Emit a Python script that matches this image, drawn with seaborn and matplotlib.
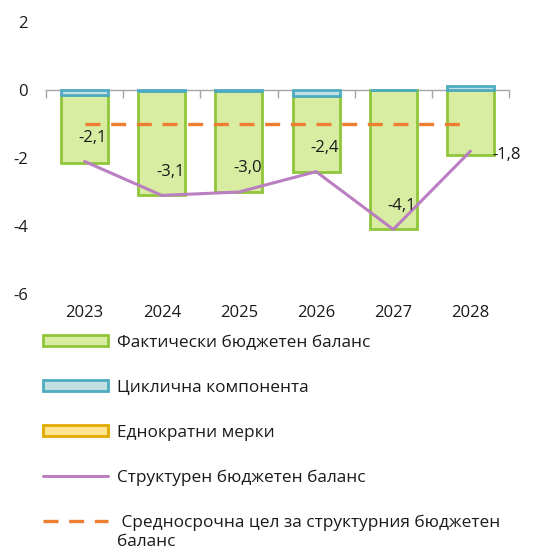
import matplotlib
matplotlib.use("Agg")
import matplotlib.pyplot as plt
import seaborn as sns
import numpy as np
import pandas as pd
from matplotlib.patches import Patch
from matplotlib.lines import Line2D
from matplotlib.ticker import FixedLocator
from matplotlib.legend_handler import HandlerLine2D

years = ["2023", "2024", "2025", "2026", "2027", "2028"]
actual_balance = [-2.15, -3.1, -3.0, -2.4, -4.1, -1.9]
cyclical = [-0.15, -0.04, -0.04, -0.17, 0.0, 0.12]
one_off = [0.0, 0.0, 0.0, 0.0, 0.0, 0.0]
structural = [-2.1, -3.1, -3.0, -2.4, -4.1, -1.8]
structural_labels = ["-2,1", "-3,1", "-3,0", "-2,4", "-4,1", "-1,8"]
mto = [-1.0, -1.0, -1.0, -1.0, -1.0, -1.0]
y_ticks = [2, 0, -2, -4, -6]

legend_labels = ["Фактически бюджетен баланс", "Циклична компонента",
                 "Еднократни мерки", "Структурен бюджетен баланс",
                 " Средносрочна цел за структурния бюджетен\nбаланс"]

GREEN_F, GREEN_E = "#d8eda2", "#8fc63a"
CYAN_F, CYAN_E = "#c2dfe4", "#4eabc2"
YEL_F, YEL_E = "#ffe48f", "#e2aa00"
PURPLE = "#b97fc1"
ORANGE = "#ed7d31"

sns.set_theme(style="white")
plt.rcParams['font.family'] = ['Open Sans', 'DejaVu Sans']

df = pd.DataFrame({"year": years, "actual": actual_balance, "cyc": cyclical,
                   "one": one_off, "struct": structural, "mto": mto})
cyc_neg = np.minimum(df["cyc"].values, 0)
df["green"] = df["actual"] - cyc_neg

fig = plt.figure(figsize=(5.55, 5.53), dpi=100)
ax = fig.add_axes([46/555, 1-294/553, 463/555, 272/553])

x = np.arange(len(years))
w = 0.61
ax.bar(x, df["green"], bottom=cyc_neg, width=w, color=GREEN_F,
       edgecolor=GREEN_E, linewidth=2, zorder=2)
ax.bar(x, df["cyc"], width=w, color=CYAN_F, edgecolor=CYAN_E,
       linewidth=2, zorder=2)

sns.lineplot(x=x, y=df["struct"], ax=ax, color=PURPLE, linewidth=2.2,
             zorder=4, legend=False)
sns.lineplot(x=x, y=df["mto"], ax=ax, color=ORANGE, linewidth=2.4,
             zorder=3, legend=False, dashes=False)
ax.lines[-1].set_dashes((4.5, 3.2))

for i, (v, lab) in enumerate(zip(structural, structural_labels)):
    if i == len(structural) - 1:
        ax.annotate(lab, (x[i], v), xytext=(16, -3), textcoords="offset points",
                    ha="left", va="center", fontsize=12, color="#1a1a1a", zorder=5)
    else:
        ax.annotate(lab, (x[i], v), xytext=(6, 17), textcoords="offset points",
                    ha="center", va="center", fontsize=12, color="#1a1a1a", zorder=5)

ax.set_xlim(-0.5, len(years) - 0.5)
ax.set_ylim(-6, 2)
ax.set_yticks(y_ticks)
ax.set_yticklabels([str(t) for t in y_ticks])
ax.tick_params(axis="y", length=0, pad=13, labelsize=12, colors="#1a1a1a")
ax.set_xticks(x)
ax.set_xticklabels(years)
ax.tick_params(axis="x", which="major", bottom=True, length=0, pad=8,
               labelsize=12, colors="#1a1a1a")
ax.set_xlabel("")
ax.set_ylabel("")

for s in ["left", "right", "bottom"]:
    ax.spines[s].set_visible(False)
ax.spines["top"].set_position(("data", 0))
ax.spines["top"].set_color("#a6a6a6")
ax.spines["top"].set_linewidth(1)
ax.spines["top"].set_zorder(1)
ax.xaxis.set_minor_locator(FixedLocator(np.arange(-0.5, len(years), 1.0)))
ax.tick_params(axis="x", which="minor", top=True, bottom=False, direction="in",
               length=6, width=1, color="#a6a6a6")
ax.tick_params(axis="x", which="major", top=False)


class ShiftedLine(HandlerLine2D):
    def __init__(self, shift, **kw):
        super().__init__(**kw)
        self.shift = shift

    def create_artists(self, *args, **kwargs):
        arts = super().create_artists(*args, **kwargs)
        for a in arts:
            a.set_ydata(np.asarray(a.get_ydata()) + self.shift)
        return arts


handles = [Patch(facecolor=GREEN_F, edgecolor=GREEN_E, linewidth=2),
           Patch(facecolor=CYAN_F, edgecolor=CYAN_E, linewidth=2),
           Patch(facecolor=YEL_F, edgecolor=YEL_E, linewidth=2),
           Line2D([], [], color=PURPLE, linewidth=2.2),
           Line2D([], [], color=ORANGE, linewidth=2.4, dashes=(4.5, 3.2))]
leg = fig.legend(handles, legend_labels, loc="upper left",
                 bbox_to_anchor=(43/555, 1-335/553), frameon=False,
                 fontsize=12.4, handlelength=3.8, handleheight=0.6,
                 handletextpad=0.5, labelspacing=1.67, borderpad=0,
                 borderaxespad=0,
                 handler_map={handles[4]: ShiftedLine(8.5)})
for t in leg.get_texts():
    t.set_color("#1a1a1a")
leg.get_texts()[-1].set_linespacing(1.3)

fig.savefig("out.png", dpi=100)
